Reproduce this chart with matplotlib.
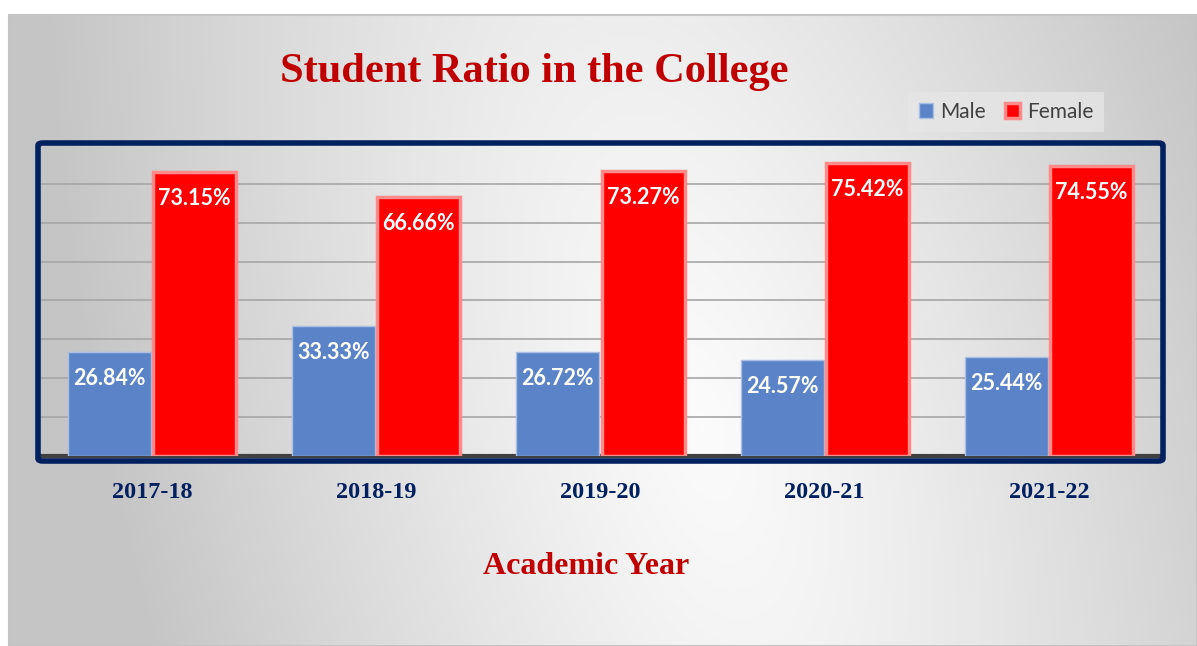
import numpy as np
import matplotlib
matplotlib.use("Agg")
import matplotlib.pyplot as plt
from matplotlib.patches import FancyBboxPatch, Rectangle

# data
years = ["2017-18", "2018-19", "2019-20", "2020-21", "2021-22"]
male = [26.84, 33.33, 26.72, 24.57, 25.44]
female = [73.15, 66.66, 73.27, 75.42, 74.55]

W, H = 1197, 646
fig = plt.figure(figsize=(W / 100, H / 100), dpi=100)
fig.patch.set_facecolor("white")

# grey background panel, lighter in a slanted band through the middle
bg = fig.add_axes([0, 0, 1, 1], zorder=-10)
bg.set_axis_off()
yy, xx = np.mgrid[0:H, 0:W]
cx = 620 + 0.2 * (yy - 15)
d = np.sqrt(((xx - cx) / 600) ** 2 + ((yy - 420) / 1300) ** 2)
t = np.clip(d, 0, 1) ** 1.15
shade = 0.985 - 0.21 * t
img = np.dstack([shade] * 3)
img[:15, :, :] = 1.0
img[:, :9, :] = 1.0
bg.imshow(img, extent=[0, W, H, 0], aspect="auto", interpolation="bilinear")
bg.add_patch(Rectangle((9, 15), W - 9, H - 15, fill=False, ec="#c4c4c4", lw=1.5))
bg.set_xlim(0, W)
bg.set_ylim(H, 0)

# navy frame around the plot area
fig.patches.append(FancyBboxPatch((38 / W, (H - 461) / H), (1163 - 38) / W, (461 - 143) / H,
                                  boxstyle="round,pad=0,rounding_size=0.004",
                                  transform=fig.transFigure, fill=False,
                                  ec="#002060", lw=4, zorder=5))

ax = fig.add_axes([40 / W, (H - 456) / H, 1121 / W, 311 / H])
ax.patch.set_alpha(0)
x = np.arange(len(years))
w = 0.37
b1 = ax.bar(x - 0.19, male, w, color="#5b84c8", edgecolor="#a9bfe3", lw=1, label="Male", zorder=3)
b2 = ax.bar(x + 0.19, female, w, color="#ff0000", edgecolor="#ff8a8a", lw=2.5, label="Female", zorder=3)

for bars, vals in [(b1, male), (b2, female)]:
    for r, v in zip(bars, vals):
        ax.annotate(f"{v:.2f}%", (r.get_x() + r.get_width() / 2, v), xytext=(0, -19),
                    textcoords="offset points", ha="center", va="center",
                    color="white", fontsize=15.5, fontweight="bold", family="Lato", zorder=4)

ax.set_xlim(-0.5, len(years) - 0.5)
ax.set_ylim(0, 80)
ax.set_yticks(np.arange(10, 80, 10))
ax.yaxis.grid(True, color="#a6a6a6", lw=1.2)
ax.set_axisbelow(True)
ax.tick_params(left=False, labelleft=False, bottom=False)
for s in ["left", "right", "top"]:
    ax.spines[s].set_visible(False)
ax.spines["bottom"].set_color("#404040")
ax.spines["bottom"].set_linewidth(3)
ax.set_xticks(x)
ax.set_xticklabels(years, family="Liberation Serif", fontweight="bold", fontsize=17.5, color="#002060")
ax.tick_params(axis="x", pad=15)

fig.text(534 / W, 1 - 72 / H, "Student Ratio in the College", ha="center", va="center",
         family="Liberation Serif", fontweight="bold", fontsize=30.5, color="#c00000")
fig.text(586 / W, 1 - 567 / H, "Academic Year", ha="center", va="center",
         family="Liberation Serif", fontweight="bold", fontsize=23, color="#c00000")

leg = fig.legend(handles=[b1, b2], loc="center", bbox_to_anchor=(1006 / W, 1 - 112 / H),
                 ncol=2, frameon=True, handlelength=0.7, handleheight=0.7,
                 handletextpad=0.35, columnspacing=0.9, borderpad=0.5,
                 prop={"family": "Lato", "size": 15})
leg.get_frame().set_facecolor("#e6e6e6")
leg.get_frame().set_edgecolor("none")
leg.get_frame().set_alpha(0.8)
leg.get_frame().set_boxstyle("square", pad=0)
for txt in leg.get_texts():
    txt.set_color("#404040")

fig.savefig("out.png", dpi=100)
